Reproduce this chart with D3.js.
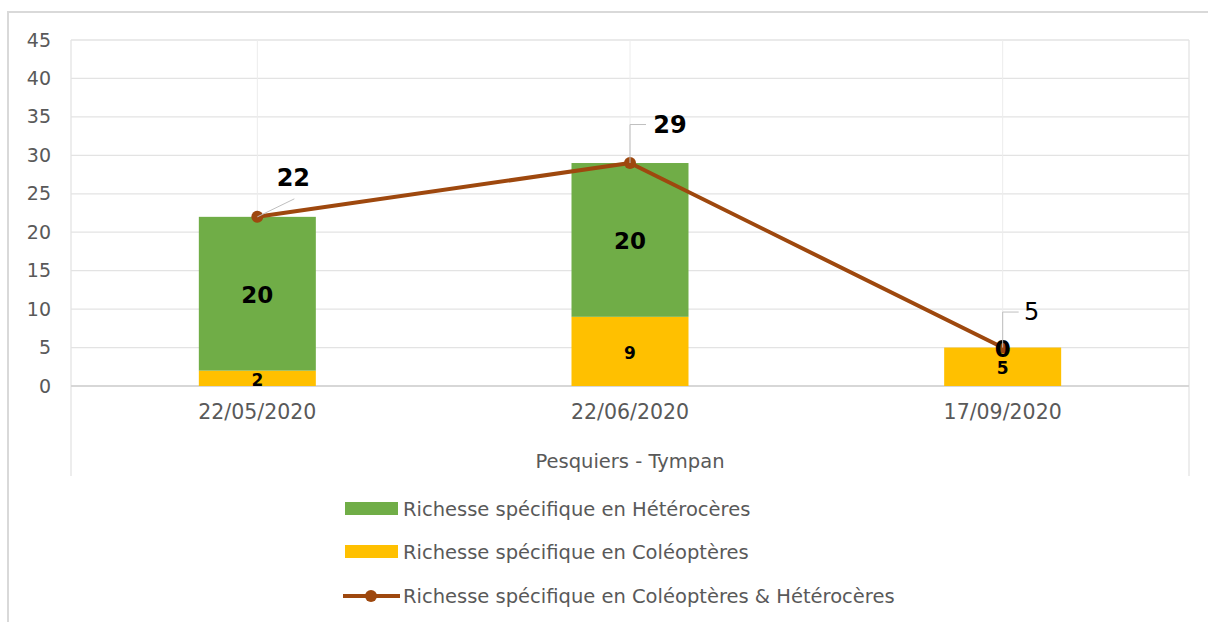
<!DOCTYPE html>
<html><head><meta charset="utf-8">
<script src="https://cdn.jsdelivr.net/npm/d3@7"></script>
<style>body{margin:0;background:#fff;}svg{display:block;font-family:"DejaVu Sans",sans-serif;}</style>
</head><body><svg id="c" width="1208" height="622"></svg>
<script>
const categories = ["22/05/2020", "22/06/2020", "17/09/2020"];
const groupLabel = "Pesquiers - Tympan";
const coleopteres = [2, 9, 5];
const heteroceres = [20, 20, 0];
const totals = [22, 29, 5];
const yTicks = [0, 5, 10, 15, 20, 25, 30, 35, 40, 45];
const seriesNames = ["Richesse spécifique en Hétérocères", "Richesse spécifique en Coléoptères", "Richesse spécifique en Coléoptères & Hétérocères"];

const svg = d3.select("#c");
const plot = {l: 71, r: 1189, t: 40, b: 386};
const C = {green: "#70ad47", yellow: "#ffc000", line: "#9e480e", grid: "#e3e3e3", text: "#595959", frame: "#d9d9d9"};
const F = "DejaVu Sans";

svg.append("rect").attr("x", 8).attr("y", 12).attr("width", 1300).attr("height", 700)
  .attr("fill", "#fff").attr("stroke", C.frame).attr("stroke-width", 2);

const x = d3.scaleBand().domain(categories).range([plot.l, plot.r]).paddingInner(0).paddingOuter(0);
const y = d3.scaleLinear().domain([0, 45]).range([plot.b, plot.t]);
const barW = 117;
const cx = d => x(d) + x.bandwidth() / 2;

svg.append("g").selectAll("line").data(yTicks).join("line")
  .attr("x1", plot.l).attr("x2", plot.r).attr("y1", d => y(d)).attr("y2", d => y(d))
  .attr("stroke", C.grid).attr("stroke-width", 1.3);
svg.append("g").selectAll("line").data(categories).join("line")
  .attr("x1", d => cx(d)).attr("x2", d => cx(d)).attr("y1", plot.t).attr("y2", plot.b)
  .attr("stroke", "#ececec").attr("stroke-width", 1);
[plot.l, plot.r].forEach(xx => svg.append("line").attr("x1", xx).attr("x2", xx).attr("y1", plot.t).attr("y2", 476)
  .attr("stroke", C.grid).attr("stroke-width", 1.3));
svg.append("line").attr("x1", plot.l).attr("x2", plot.r).attr("y1", y(0)).attr("y2", y(0))
  .attr("stroke", "#d0d0d0").attr("stroke-width", 1.3);

const yAxis = d3.axisLeft(y).tickValues(yTicks).tickSize(0).tickPadding(0);
const ya = svg.append("g").attr("transform", `translate(51,0)`).call(yAxis);
ya.select(".domain").remove();
ya.selectAll("text").attr("fill", C.text).attr("font-size", 19).attr("font-family", F);

const xAxis = d3.axisBottom(x).tickSize(0).tickPadding(0);
const xa = svg.append("g").attr("transform", `translate(0,${plot.b + 18})`).call(xAxis);
xa.select(".domain").remove();
xa.selectAll("text").attr("fill", C.text).attr("font-size", 20.5).attr("font-family", F);
svg.append("text").attr("x", (plot.l + plot.r) / 2).attr("y", 461).attr("dy", "0.36em").attr("text-anchor", "middle")
  .attr("fill", C.text).attr("font-size", 19.5).text(groupLabel);

const rows = categories.map((c, i) => ({cat: c, col: coleopteres[i], het: heteroceres[i], tot: totals[i]}));
const stack = d3.stack().keys(["col", "het"])(rows);
const colors = {col: C.yellow, het: C.green};
stack.forEach(layer => {
  svg.append("g").selectAll("rect").data(layer).join("rect")
    .attr("x", d => cx(d.data.cat) - barW / 2).attr("width", barW)
    .attr("y", d => y(d[1])).attr("height", d => y(d[0]) - y(d[1]))
    .attr("fill", colors[layer.key]);
});

const line = d3.line().x(d => cx(d.cat)).y(d => y(d.tot));
svg.append("path").datum(rows).attr("d", line).attr("fill", "none")
  .attr("stroke", C.line).attr("stroke-width", 4).attr("stroke-linejoin", "round");

svg.append("g").selectAll("text").data(stack[0]).join("text")
  .attr("x", d => cx(d.data.cat)).attr("y", d => y((d[0] + d[1]) / 2) + 1.5).attr("dy", "0.36em")
  .attr("text-anchor", "middle").attr("font-weight", "bold").attr("font-size", 17).attr("fill", "#000")
  .text(d => d.data.col);

svg.append("g").selectAll("circle").data(rows).join("circle")
  .attr("cx", d => cx(d.cat)).attr("cy", d => y(d.tot)).attr("r", 6).attr("fill", C.line);

svg.append("g").selectAll("text").data(stack[1]).join("text")
  .attr("x", d => cx(d.data.cat)).attr("y", d => y((d[0] + d[1]) / 2) + 1).attr("dy", "0.36em")
  .attr("text-anchor", "middle").attr("font-weight", "bold").attr("font-size", 23).attr("fill", "#000")
  .text(d => d.data.het);

const offsets = [{dx: 36, dy: -39, type: "diag"}, {dx: 40, dy: -39, type: "elbow"}, {dx: 29, dy: -36, type: "elbow"}];
const weights = ["bold", "bold", "normal"];
rows.forEach((d, i) => {
  const px = cx(d.cat), py = y(d.tot), o = offsets[i];
  const lx = px + o.dx, ly = py + o.dy;
  if (o.type === "diag") {
    svg.append("line").attr("x1", px).attr("y1", py).attr("x2", lx + 1).attr("y2", ly + 21)
      .attr("stroke", "#bfbfbf").attr("stroke-width", 1);
  } else {
    svg.append("path").attr("d", `M${px},${py}V${ly + 0.5}H${px + 16}`).attr("fill", "none")
      .attr("stroke", "#bfbfbf").attr("stroke-width", 1);
  }
  svg.append("text").attr("x", lx).attr("y", ly).attr("dy", "0.36em").attr("text-anchor", "middle")
    .attr("font-weight", weights[i]).attr("font-size", 24).attr("fill", "#000").text(d.tot);
});

const leg = svg.append("g");
const ly0 = [509, 552, 596];
leg.append("rect").attr("x", 345).attr("y", ly0[0] - 7).attr("width", 53).attr("height", 13).attr("fill", C.green);
leg.append("rect").attr("x", 345).attr("y", ly0[1] - 7).attr("width", 53).attr("height", 13).attr("fill", C.yellow);
leg.append("line").attr("x1", 343).attr("x2", 400).attr("y1", ly0[2]).attr("y2", ly0[2]).attr("stroke", C.line).attr("stroke-width", 4);
leg.append("circle").attr("cx", 371).attr("cy", ly0[2]).attr("r", 6).attr("fill", C.line);
leg.selectAll("text").data(seriesNames).join("text")
  .attr("x", 403).attr("y", (d, i) => ly0[i]).attr("dy", "0.36em")
  .attr("fill", C.text).attr("font-size", 19.5).text(d => d);
</script></body></html>
